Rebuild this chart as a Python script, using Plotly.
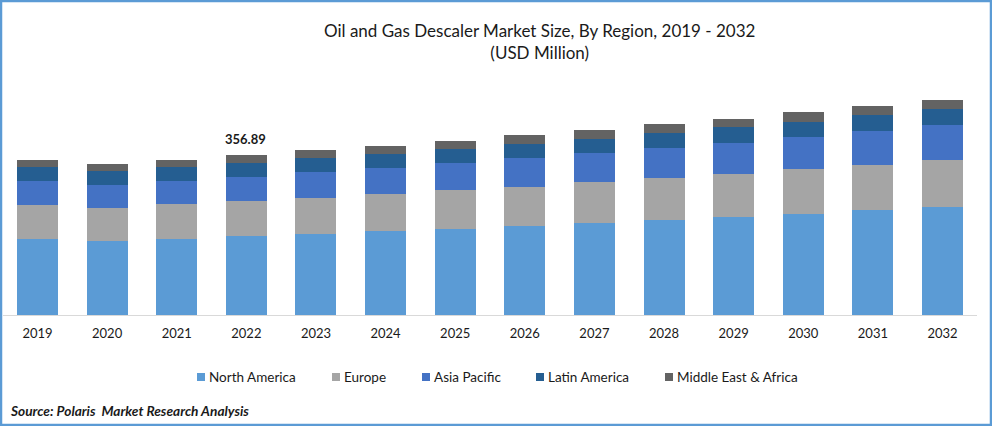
import plotly.graph_objects as go

years = ["2019", "2020", "2021", "2022", "2023", "2024", "2025",
         "2026", "2027", "2028", "2029", "2030", "2031", "2032"]
north_america = [169.5, 165.1, 169.5, 176.2, 180.7, 187.4, 191.8, 198.5, 205.2, 211.9, 218.6, 225.3, 234.2, 240.9]
europe = [75.8, 73.6, 78.1, 78.1, 80.3, 82.5, 87.0, 87.0, 91.4, 93.7, 95.9, 100.4, 100.4, 104.8]
asia_pacific = [53.5, 51.3, 51.3, 53.5, 58.0, 58.0, 60.2, 64.7, 64.7, 66.9, 69.1, 71.4, 75.8, 78.1]
latin_america = [31.2, 31.2, 31.2, 31.2, 31.2, 31.2, 31.2, 31.2, 31.2, 33.5, 35.7, 33.5, 35.7, 35.7]
middle_east = [15.6, 15.6, 15.6, 17.8, 17.8, 17.8, 17.8, 20.0, 20.0, 20.0, 17.8, 22.3, 20.0, 20.0]

W = 992
H = 426
FONT = "Lato"
TEXT = "#1a1a1a"
BORDER = "#5b9bd5"

series = [
    ("North America", north_america, "#5b9bd5"),
    ("Europe", europe, "#a5a5a5"),
    ("Asia Pacific", asia_pacific, "#4472c4"),
    ("Latin America", latin_america, "#255e91"),
    ("Middle East & Africa", middle_east, "#636363"),
]
# left edge of each legend swatch, pixels
legend_x = [197, 332, 422, 536, 665]

fig = go.Figure()
for name, values, color in series:
    fig.add_trace(go.Bar(x=years, y=values, name=name, marker=dict(color=color, line=dict(width=0))))

fig.update_layout(
    width=W,
    height=H,
    barmode="stack",
    bargap=0.41,
    paper_bgcolor="white",
    plot_bgcolor="white",
    margin=dict(l=0, r=0, t=0, b=0),
    font=dict(family=FONT, size=13, color=TEXT),
    showlegend=False,
    xaxis=dict(type="category", domain=[2.7 / W, 977.3 / W], showline=True, linecolor="#d9d9d9", linewidth=1,
               showgrid=False, ticks="", ticklabelstandoff=6, tickfont=dict(size=13), automargin=False),
    yaxis=dict(domain=[1 - 315 / H, 1 - 60 / H], range=[0, 568.8], visible=False, automargin=False),
)

# legend row, the swatches are smaller than plotly's own
for (name, values, color), px in zip(series, legend_x):
    fig.add_shape(type="rect", xref="paper", yref="paper", x0=px / W, x1=(px + 8) / W,
                  y0=1 - 381 / H, y1=1 - 373 / H, fillcolor=color, line=dict(width=0))
    fig.add_annotation(text=name, xref="paper", yref="paper", x=(px + 12) / W, y=1 - 376.5 / H,
                       xanchor="left", yanchor="middle", showarrow=False, xshift=-2, font=dict(size=13.5))

# title, source line and the one labelled total
fig.add_annotation(text="Oil and Gas Descaler Market Size, By Region, 2019 - 2032<br>(USD Million)",
                   xref="paper", yref="paper", x=539 / W, y=1 - 41.5 / H, xanchor="center", yanchor="middle",
                   showarrow=False, font=dict(size=17), align="center")
fig.add_annotation(text="<b><i>Source: Polaris  Market Research Analysis</i></b>",
                   xref="paper", yref="paper", x=11 / W, y=1 - 410 / H, xanchor="left", yanchor="middle",
                   showarrow=False, xshift=-3, font=dict(size=13.7))
# category axis takes the index here, not the label
fig.add_annotation(text="<b>356.89</b>", x=years.index("2022"), y=356.89, yshift=16, xshift=-1,
                   showarrow=False, font=dict(size=13))

# picture frame
fig.add_shape(type="rect", xref="paper", yref="paper", x0=1 / W, x1=991 / W, y0=1 - 425 / H, y1=1 - 1 / H,
              line=dict(color=BORDER, width=2.5), fillcolor="rgba(0,0,0,0)")

fig.write_html("out.html", config=dict(displayModeBar=False),
               post_script="document.body.style.margin='0';document.body.style.overflow='hidden';")
